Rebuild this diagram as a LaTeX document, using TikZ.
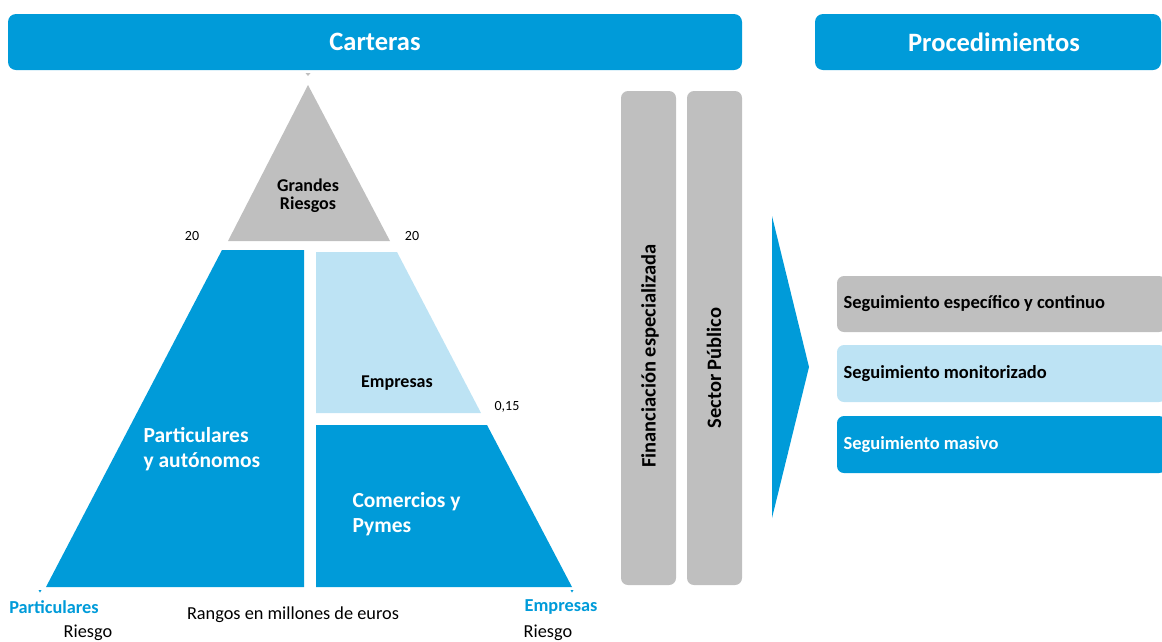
\documentclass[tikz,border=0pt]{standalone}
\usepackage{fontspec}
\setmainfont{Carlito}
\definecolor{cblue}{RGB}{0,155,217}
\definecolor{clight}{RGB}{189,227,244}
\definecolor{cgray}{RGB}{191,191,191}
\begin{document}
\begin{tikzpicture}[x=1pt,y=-1pt,
  hdr/.style={fill=cblue,rounded corners=8pt},
  hdrtext/.style={text=white,font=\fontsize{26.5}{28}\selectfont\bfseries},
  lbl/.style={font=\fontsize{18}{18}\selectfont\bfseries,align=center},
  vlbl/.style={font=\fontsize{20.5}{22}\selectfont\bfseries},
  big/.style={font=\fontsize{21.5}{25}\selectfont\bfseries,align=left,anchor=west},
  small/.style={font=\fontsize{14}{16}\selectfont},
  bot/.style={font=\fontsize{18.3}{20}\selectfont},
  botb/.style={font=\fontsize{18.3}{20}\selectfont\bfseries,text=cblue},
  bar/.style={fill=cgray,rounded corners=7pt},
  proc/.style={rounded corners=7pt},
  proctext/.style={font=\fontsize{18.5}{20}\selectfont\bfseries,anchor=west}]
\useasboundingbox (0,0) rectangle (1162,641);
% headers
\fill[hdr] (8,14) rectangle (742,70);
\node[hdrtext] (carteras) at (375,42) {Carteras};
\fill[hdr] (815,14) rectangle (1161,70);
\node[hdrtext] (proc) at (994,42) {Procedimientos};
% pyramid
\fill[cgray] (308,76) -- ++(-2.5,-3) -- ++(5,0) -- cycle;
\fill[cgray] (308,85) -- (390,241) -- (228,241) -- cycle;
\node[lbl] (gr) at (308,196) {Grandes\\Riesgos};
\node[small] (n20a) at (192,236) {20};
\node[small] (n20b) at (412,236) {20};
\fill[cblue] (222,250) -- (304,250) -- (304,587) -- (46,587) -- cycle;
\fill[clight] (316,252) -- (397,252) -- (481,413) -- (316,413) -- cycle;
\fill[cblue] (316,425) -- (487,425) -- (572,587) -- (316,587) -- cycle;
\fill[cblue] (40,590) -- ++(-1.5,0) -- ++(1.5,2.5) -- ++(1.5,-2.5) -- cycle;
\fill[cblue] (572,590) -- ++(-1.5,0) -- ++(1.5,2.5) -- ++(1.5,-2.5) -- cycle;
\node[lbl] (emp) at (397,383) {Empresas};
\node[small] (n015) at (507,407) {0,15};
\node[big,text=white] (part) at (140,449) {Particulares\\y autónomos};
\node[big,text=white] (com) at (349,514) {Comercios y\\Pymes};
% bottom labels
\node[botb] (bl) at (54,607) {Particulares};
\node[bot] (rl) at (88,633) {Riesgo};
\node[bot] (rango) at (293,615) {Rangos en millones de euros};
\node[botb] (br) at (561,607) {Empresas};
\node[bot] (rr) at (548,633) {Riesgo};
% vertical bars
\fill[bar] (621,91) rectangle (676,585);
\node[vlbl,rotate=90] (fin) at (650,356) {Financiación especializada};
\fill[bar] (687,91) rectangle (742,585);
\node[vlbl,rotate=90] (sp) at (714,368) {Sector Público};
% arrow
\fill[cblue] (772,216) -- (809,367) -- (772,518) -- cycle;
% procedure boxes
\fill[proc,fill=cgray] (837,276) rectangle (1166,332);
\node[proctext] (p1) at (840,304) {Seguimiento específico y continuo};
\fill[proc,fill=clight] (837,345) rectangle (1166,402);
\node[proctext] (p2) at (840,374) {Seguimiento monitorizado};
\fill[proc,fill=cblue] (837,416) rectangle (1166,473);
\node[proctext,text=white] (p3) at (840,445) {Seguimiento masivo};
\end{tikzpicture}
\end{document}
